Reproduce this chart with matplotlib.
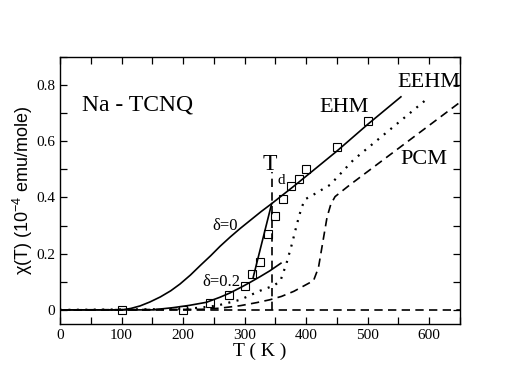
import matplotlib
matplotlib.use("Agg")
import matplotlib.pyplot as plt
from matplotlib.ticker import MultipleLocator

plt.rcParams['mathtext.fontset'] = 'custom'
plt.rcParams['mathtext.rm'] = 'Liberation Sans'
plt.rcParams['mathtext.it'] = 'Liberation Sans:italic'

# experimental points
T_exp = [100, 200, 243, 275, 300, 312, 325, 338, 350, 363, 375, 388, 400, 450, 500]
chi_exp = [0.0, 0.0, 0.025, 0.053, 0.086, 0.126, 0.171, 0.271, 0.334, 0.395, 0.44, 0.464, 0.50, 0.581, 0.672]

# EHM, delta = 0
T_d0 = [0, 100, 115, 130, 146, 163, 180, 195, 212, 228, 245, 260, 277, 293, 310, 327, 344, 380, 412, 450, 500, 554]
chi_d0 = [0, 0.0, 0.005, 0.014, 0.028, 0.046, 0.068, 0.092, 0.124, 0.158, 0.193, 0.226, 0.26, 0.29, 0.32, 0.35, 0.378, 0.44, 0.497, 0.565, 0.66, 0.758]

# delta = 0.2
T_d2 = [0, 150, 184, 210, 238, 260, 276, 293, 309, 325, 341, 359]
chi_d2 = [0, 0.0, 0.008, 0.016, 0.027, 0.045, 0.06, 0.079, 0.098, 0.118, 0.139, 0.166]

# transition jump
T_jump = [314, 344]
chi_jump = [0.116, 0.378]

# EEHM (dotted)
T_eehm = [0, 200, 228, 255, 293, 325, 347, 358, 368, 377, 385, 392, 398, 412, 439, 477, 600]
chi_eehm = [0, 0.003, 0.008, 0.015, 0.036, 0.068, 0.086, 0.102, 0.165, 0.235, 0.305, 0.36, 0.393, 0.41, 0.445, 0.534, 0.757]

# PCM (dashed)
T_pcm = [0, 230, 260, 293, 320, 341, 360, 380, 412, 420, 427, 434, 440, 447, 470, 649]
chi_pcm = [0, 0.002, 0.006, 0.015, 0.026, 0.036, 0.048, 0.066, 0.104, 0.15, 0.24, 0.33, 0.375, 0.403, 0.443, 0.737]

T_d = 344
Td_top = 0.49

fig = plt.figure(figsize=(5.18, 3.82), dpi=100)
ax = fig.add_axes([0.1158, 0.152, 0.7722, 0.699])

lw = 1.2
ax.plot([0, 650], [0, 0], color='black', lw=lw, dashes=(5, 3.2))
ax.plot([T_d, T_d], [0, Td_top], color='black', lw=lw, dashes=(5, 3.2))
ax.plot(T_d0, chi_d0, color='black', lw=lw)
ax.plot(T_d2, chi_d2, color='black', lw=lw)
ax.plot(T_jump, chi_jump, color='black', lw=lw)
ax.plot(T_eehm, chi_eehm, color='black', lw=1.6, linestyle=(0, (0.9, 2.9)))
ax.plot(T_pcm, chi_pcm, color='black', lw=lw, dashes=(5, 3.2))
ax.plot(T_exp, chi_exp, linestyle='none', marker='s', markersize=5.8,
        markerfacecolor='none', markeredgecolor='black', markeredgewidth=0.8)

ax.set_xlim(0, 650)
ax.set_ylim(-0.05, 0.9)
ax.xaxis.set_major_locator(MultipleLocator(100))
ax.xaxis.set_minor_locator(MultipleLocator(50))
ax.yaxis.set_major_locator(MultipleLocator(0.2))
ax.yaxis.set_minor_locator(MultipleLocator(0.1))
ax.tick_params(which='both', direction='in', top=True, right=True)
ax.tick_params(which='major', length=5, width=0.9)
ax.tick_params(which='minor', length=5, width=0.9)
ax.set_yticks([0, 0.2, 0.4, 0.6, 0.8])
ax.set_yticklabels(['0', '0.2', '0.4', '0.6', '0.8'])
for lab in ax.get_xticklabels() + ax.get_yticklabels():
    lab.set_fontfamily('Liberation Serif')
    lab.set_fontsize(11)
for s in ax.spines.values():
    s.set_linewidth(1.0)

ax.set_xlabel('T ( K )', fontfamily='Liberation Serif', fontsize=14, labelpad=1)
ax.set_ylabel('χ(T) (10$^{\\mathrm{-4}}$ emu/mole)', fontfamily='Liberation Sans', fontsize=13)
ax.yaxis.set_label_coords(-0.093, 0.5)
ax.yaxis.label.set_va('center')

serif = 'Liberation Serif'
ax.text(36, 0.73, 'Na - TCNQ', fontfamily=serif, fontsize=17, va='center', ha='left')
ax.text(462, 0.719, 'EHM', fontfamily=serif, fontsize=16, va='center', ha='center')
ax.text(600, 0.81, 'EEHM', fontfamily=serif, fontsize=16, va='center', ha='center', clip_on=False)
ax.text(592, 0.535, 'PCM', fontfamily=serif, fontsize=16, va='center', ha='center')
ax.text(341.5, 0.517, 'T', fontfamily=serif, fontsize=17, va='center', ha='center')
ax.text(359, 0.462, 'd', fontfamily=serif, fontsize=11, va='center', ha='center')
ax.text(268, 0.30, 'δ=0', fontfamily=serif, fontsize=12, va='center', ha='center')
ax.text(263, 0.10, 'δ=0.2', fontfamily=serif, fontsize=12, va='center', ha='center')

fig.savefig('out.png', dpi=100)
